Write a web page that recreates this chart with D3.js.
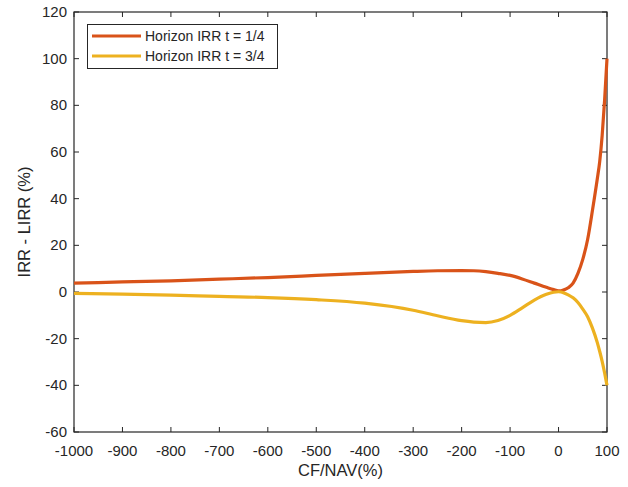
<!DOCTYPE html>
<html><head><meta charset="utf-8">
<script src="https://cdn.jsdelivr.net/npm/d3@7"></script>
<style>body{margin:0;background:#fff}svg{display:block}text{font-family:"Liberation Sans",Arial,sans-serif;fill:#262626}</style>
</head><body>
<svg id="c" width="628" height="487"></svg>
<script>
const cfX = [-1000,-900,-800,-700,-600,-500,-400,-300,-250,-200,-175,-150,-125,-100,-75,-50,-25,-10,0,5,10,20,30,40,50,60,70,80,85,90,95,100];
const irrQuarter = [3.8,4.3,4.8,5.5,6.2,7.1,8.0,8.8,9.1,9.2,9.1,8.7,8.0,7.1,5.6,3.8,2.0,1.0,0.5,0.5,0.8,1.8,3.8,8.0,14.0,22.5,35.0,48.5,56,67,82,100];
const irrThreeQuarter = [-0.6,-0.9,-1.3,-1.9,-2.4,-3.3,-4.8,-7.8,-10.2,-12.3,-12.9,-13.1,-12.2,-10.0,-6.8,-3.5,-1.0,-0.1,0.1,0.0,-0.3,-1.2,-2.5,-4.5,-7.3,-10.6,-15.5,-21.7,-25.5,-29.7,-34.6,-40];
const xTicks = [-1000,-900,-800,-700,-600,-500,-400,-300,-200,-100,0,100];
const yTicks = [-60,-40,-20,0,20,40,60,80,100,120];
const seriesNames = ["Horizon IRR t = 1/4","Horizon IRR t = 3/4"];
const colors = ["#D95319","#EDB120"];

const svg = d3.select("#c");
const L=74, R=607, T=12, B=432;
const x = d3.scaleLinear().domain([-1000,100]).range([L,R]);
const y = d3.scaleLinear().domain([-60,120]).range([B,T]);
const axCol="#262626";

const g = svg.append("g");
const tl=5;
xTicks.forEach(v=>{
  g.append("line").attr("x1",x(v)).attr("x2",x(v)).attr("y1",B).attr("y2",B-tl).attr("stroke",axCol);
  g.append("line").attr("x1",x(v)).attr("x2",x(v)).attr("y1",T).attr("y2",T+tl).attr("stroke",axCol);
  g.append("text").attr("x",x(v)).attr("y",B+24).attr("text-anchor","middle").attr("font-size",15).text(v);
});
yTicks.forEach(v=>{
  g.append("line").attr("x1",L).attr("x2",L+tl).attr("y1",y(v)).attr("y2",y(v)).attr("stroke",axCol);
  g.append("line").attr("x1",R).attr("x2",R-tl).attr("y1",y(v)).attr("y2",y(v)).attr("stroke",axCol);
  g.append("text").attr("x",L-7).attr("y",y(v)+5).attr("text-anchor","end").attr("font-size",15).text(v);
});
g.append("rect").attr("x",L).attr("y",T).attr("width",R-L).attr("height",B-T).attr("fill","none").attr("stroke",axCol).attr("stroke-width",1.2);

const data=[irrQuarter,irrThreeQuarter];
const line = d3.line().x((d,i)=>x(cfX[i])).y(d=>y(d)).curve(d3.curveMonotoneX);
data.forEach((s,k)=>{
  svg.append("path").datum(s).attr("d",line).attr("fill","none").attr("stroke",colors[k]).attr("stroke-width",3.2);
});

svg.append("text").attr("x",(L+R)/2).attr("y",476).attr("text-anchor","middle").attr("font-size",16.5).text("CF/NAV(%)");
svg.append("text").attr("transform",`translate(30,${(T+B)/2}) rotate(-90)`).attr("text-anchor","middle").attr("font-size",16.5).text("IRR - LIRR (%)");

const lg = svg.append("g");
lg.append("rect").attr("x",87.5).attr("y",24.5).attr("width",190).attr("height",44).attr("fill","#fff").attr("stroke",axCol).attr("stroke-width",1);
seriesNames.forEach((n,k)=>{
  const yy = 36 + k*20;
  lg.append("line").attr("x1",92).attr("x2",141).attr("y1",yy).attr("y2",yy).attr("stroke",colors[k]).attr("stroke-width",3.2);
  lg.append("text").attr("x",145).attr("y",yy+5).attr("font-size",14).text(n);
});
</script>
</body></html>
